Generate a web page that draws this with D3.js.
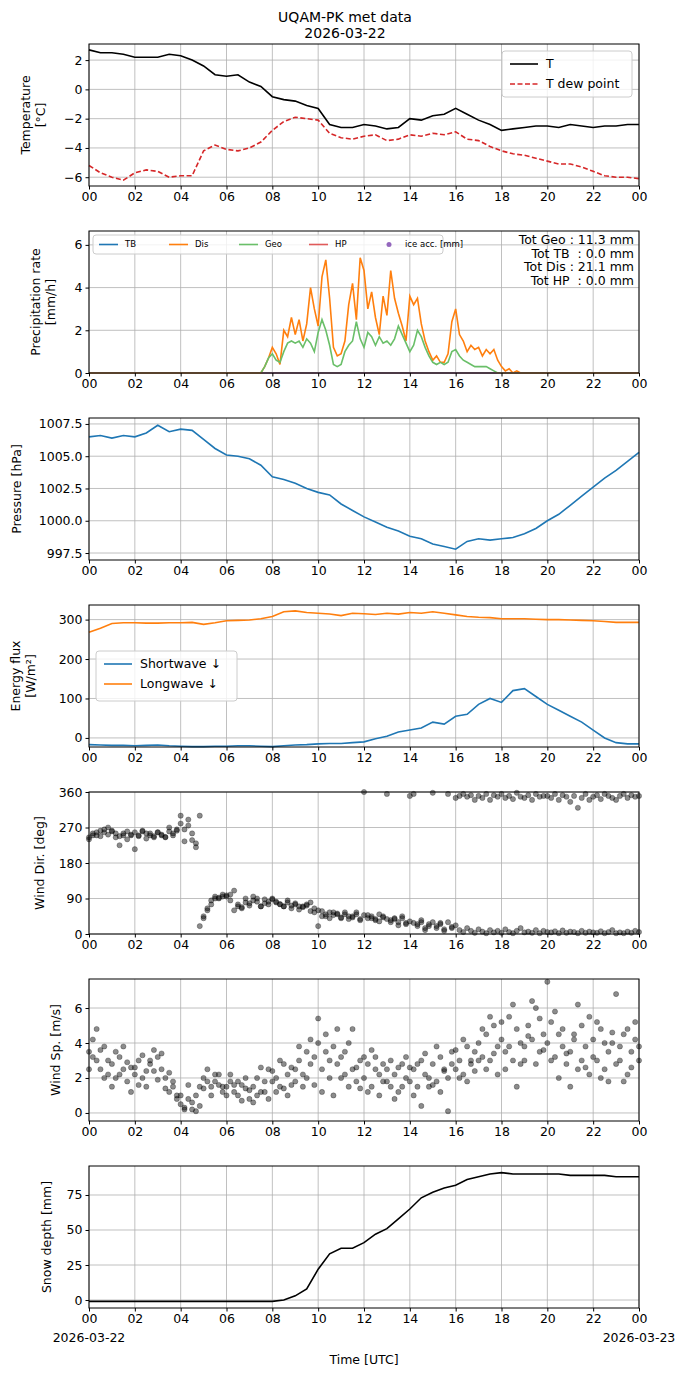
<!doctype html>
<html>
<head>
<script src="https://d3js.org/d3.v7.min.js"></script>
<style>
body{margin:0;background:#fff;font-family:"DejaVu Sans",sans-serif;}
text{font-family:"DejaVu Sans",sans-serif;}
</style>
</head>
<body>
<script>
// ---- data ----
var halfHours = d3.range(0, 24.01, 0.5);
var tempT = [2.7,2.5,2.5,2.4,2.2,2.2,2.2,2.4,2.3,2.0,1.6,1.0,0.9,1.0,0.5,0.2,-0.5,-0.7,-0.8,-1.1,-1.3,-2.4,-2.6,-2.6,-2.4,-2.5,-2.7,-2.6,-2.0,-2.1,-1.8,-1.7,-1.3,-1.7,-2.1,-2.4,-2.8,-2.7,-2.6,-2.5,-2.5,-2.6,-2.4,-2.5,-2.6,-2.5,-2.5,-2.4,-2.4];
var tempTd = [-5.2,-5.7,-6.0,-6.2,-5.7,-5.5,-5.6,-6.0,-5.9,-5.9,-4.2,-3.8,-4.1,-4.2,-4.0,-3.6,-2.8,-2.2,-1.9,-2.0,-2.1,-3.0,-3.3,-3.4,-3.2,-3.1,-3.5,-3.4,-3.1,-3.2,-3.0,-3.1,-2.9,-3.4,-3.5,-3.9,-4.2,-4.4,-4.5,-4.7,-4.9,-5.1,-5.1,-5.3,-5.6,-5.9,-6.0,-6.0,-6.1];
var pressure = [1006.5,1006.6,1006.4,1006.6,1006.5,1006.8,1007.4,1006.9,1007.1,1007.0,1006.3,1005.6,1005.1,1005.0,1004.8,1004.3,1003.4,1003.2,1002.9,1002.5,1002.2,1002.0,1001.3,1000.8,1000.3,999.9,999.5,999.2,998.8,998.6,998.2,998.0,997.8,998.4,998.6,998.5,998.6,998.7,999.0,999.4,1000.0,1000.5,1001.2,1001.9,1002.6,1003.3,1003.9,1004.6,1005.3];
var shortwave = [-17,-18,-19,-19,-20,-19,-18,-20,-21,-22,-22,-21,-21,-20,-20,-21,-22,-20,-18,-17,-15,-14,-14,-12,-10,-2,4,15,20,25,40,35,55,60,85,100,90,120,125,105,85,70,55,40,20,0,-12,-15,-15];
var longwave = [268,278,290,292,292,291,291,292,292,293,288,292,297,298,299,302,308,320,322,318,316,314,310,316,315,313,316,314,318,316,320,316,312,308,306,305,302,302,302,301,300,300,299,298,297,295,293,293,293];
var snowDepth = [-1,-1,-1,-1,-1,-1,-1,-1,-1,-1,-1,-1,-1,-1,-1,-1,-1,0,3,8,22,33,37,37,41,47,51,58,65,73,77,80,82,86,88,90,91,90,90,90,90,90,89,89,89,89,88,88,88];

var precipStart = 7.5; // 10-min steps
var precipDis = [0,0.3,0.7,1.2,0.9,0.4,2.0,1.7,2.6,1.8,2.5,1.5,2.3,4.0,3.0,2.2,4.5,5.3,3.5,1.2,0.8,0.9,1.5,3.2,4.2,2.5,5.4,4.8,3.0,3.8,2.6,1.8,3.6,2.7,4.8,3.5,2.8,2.2,1.5,3.6,3.2,3.5,2.3,1.5,1.0,0.6,0.8,0.5,0.5,0.9,2.4,3.0,1.8,1.5,1.0,1.3,1.1,1.2,0.8,1.1,0.9,1.1,0.6,0.3,0.1,0.2,0.0,0.1,0,0];
var precipGeo = [0,0.3,0.7,0.9,0.6,0.5,1.0,1.4,1.5,1.4,1.5,1.2,1.6,1.4,1.0,1.9,2.5,2.0,1.3,0.4,0.3,0.4,1.0,1.3,1.5,2.4,1.6,1.2,1.9,1.7,1.3,1.7,1.4,1.5,1.3,1.6,2.2,1.8,1.4,1.0,1.3,2.0,1.7,1.2,0.8,0.5,0.4,0.5,0.4,0.5,1.0,1.1,0.8,0.6,0.5,0.4,0.3,0.3,0.3,0.3,0.2,0.1,0,0,0,0,0,0,0,0];
var precipTotals = ["Tot Geo : 11.3 mm","Tot TB  : 0.0 mm","Tot Dis : 21.1 mm","Tot HP  : 0.0 mm"];

var tenMin = d3.range(0, 145).map(function(i){ return i / 6; });
var windDirA = [245,255,250,262,258,270,260,255,248,250,240,252,258,248,262,255,250,245,258,252,246,260,250,265,280,235,290,255,220,300,40,60,75,90,92,95,98,100,110,70,65,80,72,85,90,70,78,82,88,80,75,70,85,72,78,70,68,75,80,65,60,45,50,55,48,52,40,50,45,42,55,38,48,40,45,35,50,42,38,35,40,30,45,25,32,28,20,35,15,25,30,20,25,12,30,18,22,10,5,15,8,3,12,6,2,10,4,8,3,12,5,2,8,15,4,6,3,10,2,8,5,4,7,2,9,3,6,5,2,8,3,6,4,3,7,2,5,10,2,4,2,6,3,8,5,10];
var windDirB = [240,250,258,248,265,252,262,245,225,255,260,250,215,250,260,242,255,248,258,250,245,270,255,262,300,265,275,238,230,20,45,65,85,95,90,100,95,85,60,75,68,90,78,95,82,70,88,75,90,82,76,70,80,65,75,62,70,72,58,55,20,58,45,40,55,50,42,55,38,45,50,35,360,48,40,38,32,45,355,30,38,22,40,28,350,355,25,30,10,20,358,15,28,8,355,15,345,350,355,348,352,340,350,345,355,340,352,348,355,345,350,342,358,348,345,352,340,355,348,350,350,345,355,340,352,348,335,350,320,345,355,340,348,352,342,355,350,345,340,350,355,345,352,348,350];
var windSpA = [3.5,4.2,3.0,2.5,3.8,2.2,2.8,2.0,3.2,2.5,1.8,2.6,2.2,3.0,2.0,1.5,2.8,3.6,3.2,2.5,2.0,1.2,1.5,1.0,0.5,0.3,0.8,0.2,1.0,0.4,2.0,1.8,1.5,2.2,1.6,1.2,1.5,1.8,1.2,1.0,1.6,1.4,0.8,1.5,2.0,1.2,1.8,2.5,1.8,2.0,1.5,2.8,2.2,1.6,2.5,3.0,2.2,3.5,2.8,3.2,4.0,2.5,3.5,2.0,3.8,2.8,3.2,2.2,4.0,2.5,1.8,3.0,2.0,2.8,1.5,3.2,2.2,1.8,2.5,1.5,2.2,1.2,2.8,2.0,1.8,2.5,1.5,3.0,2.2,2.0,2.8,1.8,3.2,2.5,2.0,3.5,2.5,3.0,2.2,3.8,2.8,3.5,4.0,3.2,4.5,3.0,5.0,3.8,4.2,3.5,5.5,3.0,4.8,2.8,3.8,5.0,4.2,6.0,3.5,4.5,4.0,5.2,3.2,4.5,3.8,2.8,3.5,4.5,2.5,5.0,3.8,2.2,4.2,3.0,4.8,2.5,3.5,4.0,2.8,3.8,4.5,2.2,3.5,4.2,3.8];
var windSpB = [2.5,3.2,4.8,3.6,2.0,3.0,1.5,3.5,2.2,3.8,2.9,1.2,2.6,1.6,3.3,2.4,3.0,2.4,1.9,3.4,1.4,2.3,1.8,0.8,1.0,0.2,1.6,0.6,0.1,1.5,1.4,2.5,1.0,1.8,2.2,1.5,1.0,2.2,1.6,1.8,0.7,2.0,1.3,0.6,1.0,2.6,1.2,0.8,2.4,1.2,3.0,1.4,1.0,2.6,1.8,3.8,1.5,2.0,4.2,1.6,5.4,1.2,4.5,3.0,1.0,4.8,2.0,3.5,1.5,4.8,2.6,1.4,3.2,1.2,3.6,2.5,1.0,2.8,1.8,3.0,0.8,2.6,1.5,3.2,2.6,1.0,2.8,0.4,3.4,1.5,1.6,3.8,1.2,2.4,0.1,2.8,3.6,2.0,4.2,1.8,3.0,2.4,3.0,4.8,2.5,5.5,3.4,2.2,5.2,2.5,3.8,6.2,1.5,4.0,3.0,4.4,6.4,2.8,5.4,3.6,7.5,3.0,5.8,2.0,4.8,3.4,1.5,4.2,6.2,3.0,2.6,5.5,3.2,5.2,2.0,4.0,1.8,4.6,6.8,3.0,1.8,4.8,2.6,5.2,3.0];

var hourTicks = d3.range(0, 25, 2);
var hourLabels = hourTicks.map(function(h){ return h === 24 ? "00" : d3.format("02d")(h); });

// ---- layout ----
var W = 689, H = 1377, left = 89, right = 639, ph = 142;
var svg = d3.select("body").append("svg").attr("width", W).attr("height", H);
var x = d3.scaleLinear().domain([0, 24]).range([left, right]);

svg.append("text").attr("x", 345).attr("y", 22).attr("text-anchor", "middle").attr("font-size", "14px").text("UQAM-PK met data");
svg.append("text").attr("x", 345).attr("y", 38).attr("text-anchor", "middle").attr("font-size", "14px").text("2026-03-22");

function panel(top, domain, ticks, fmt, labels, labelX) {
    var g = svg.append("g");
    var y = d3.scaleLinear().domain(domain).range([top + ph, top]);
    // grid
    g.selectAll(".vg").data(hourTicks).enter().append("line")
        .attr("x1", function(d){ return x(d); }).attr("x2", function(d){ return x(d); })
        .attr("y1", top).attr("y2", top + ph).attr("stroke", "#b0b0b0").attr("stroke-width", 0.8);
    g.selectAll(".hg").data(ticks).enter().append("line")
        .attr("x1", left).attr("x2", right)
        .attr("y1", function(d){ return y(d); }).attr("y2", function(d){ return y(d); })
        .attr("stroke", "#b0b0b0").attr("stroke-width", 0.8);
    var xa = svg.append("g").attr("transform", "translate(0," + (top + ph) + ")")
        .call(d3.axisBottom(x).tickValues(hourTicks).tickFormat(function(d, i){ return hourLabels[i]; }).tickSize(3.5).tickPadding(3));
    var ya = svg.append("g").attr("transform", "translate(" + left + ",0)")
        .call(d3.axisLeft(y).tickValues(ticks).tickFormat(fmt).tickSize(3.5).tickPadding(3));
    [xa, ya].forEach(function(a){
        a.select(".domain").remove();
        a.selectAll("text").attr("font-size", "12.5px").attr("fill", "#000").attr("font-family", "DejaVu Sans");
    });
    labels.forEach(function(t, i){
        svg.append("text").attr("transform", "translate(" + (labelX + i * 15) + "," + (top + ph / 2) + ") rotate(-90)")
            .attr("text-anchor", "middle").attr("font-size", "12.5px").text(t);
    });
    return {y: y, top: top, g: g, frame: function(){
        svg.append("rect").attr("x", left).attr("y", top).attr("width", right - left).attr("height", ph)
            .attr("fill", "none").attr("stroke", "#000").attr("stroke-width", 1);
    }};
}

function drawLine(p, xs, ys, color, dash, width) {
    p.g.append("path").datum(d3.zip(xs, ys))
        .attr("fill", "none").attr("stroke", color).attr("stroke-width", width || 1.6)
        .attr("stroke-dasharray", dash || null)
        .attr("d", d3.line().x(function(d){ return x(d[0]); }).y(function(d){ return p.y(d[1]); }));
}

function legend(x0, y0, w, h, items, fs, horizontal) {
    var g = svg.append("g");
    g.append("rect").attr("x", x0).attr("y", y0).attr("width", w).attr("height", h).attr("rx", 3)
        .attr("fill", "#fff").attr("fill-opacity", 0.8).attr("stroke", "#ccc");
    items.forEach(function(it, i){
        var lx = horizontal ? x0 + 6 + i * 70 : x0 + 8;
        var ly = horizontal ? y0 + h / 2 : y0 + 13 + i * 20;
        if (it.dot) {
            g.append("circle").attr("cx", lx + 10).attr("cy", ly).attr("r", 2.5).attr("fill", it.color);
        } else {
            g.append("line").attr("x1", lx).attr("x2", lx + (horizontal ? 19 : 28)).attr("y1", ly).attr("y2", ly)
                .attr("stroke", it.color).attr("stroke-width", 1.6).attr("stroke-dasharray", it.dash || null);
        }
        g.append("text").attr("x", lx + (horizontal ? 26 : 36)).attr("y", ly).attr("dy", "0.35em")
            .attr("font-size", fs).text(it.name);
    });
}

// 1 temperature
var p1 = panel(44, [-6.6, 3.1], [-6, -4, -2, 0, 2], d3.format("d"), ["Temperature", "[°C]"], 30);
drawLine(p1, halfHours, tempT, "#000");
drawLine(p1, halfHours, tempTd, "#d62728", "5,2.5");
p1.frame();
legend(502, 51, 130, 46, [{name: "T", color: "#000"}, {name: "T dew point", color: "#d62728", dash: "5,2.5"}], "12.5px");

// 2 precipitation
var p2 = panel(231, [0, 6.65], [0, 2, 4, 6], d3.format("d"), ["Precipitation rate", "[mm/h]"], 40);
var pHours = [0].concat(precipDis.map(function(d, i){ return precipStart + i / 6; })).concat([24]);
drawLine(p2, [0, 24], [0, 0], "#1f77b4");
drawLine(p2, pHours, [0].concat(precipDis).concat([0]), "#ff7f0e");
drawLine(p2, pHours, [0].concat(precipGeo).concat([0]), "#6abf69");
drawLine(p2, [0, 24], [0, 0], "#e05a5a", null, 1.2);
p2.frame();
precipTotals.forEach(function(t, i){
    svg.append("text").attr("x", 634).attr("y", 244 + i * 13.5).attr("text-anchor", "end")
        .attr("font-size", "12.5px").attr("xml:space", "preserve").style("white-space", "pre").text(t);
});
legend(93, 235, 350, 19, [{name: "TB", color: "#1f77b4"}, {name: "Dis", color: "#ff7f0e"}, {name: "Geo", color: "#6abf69"}, {name: "HP", color: "#e05a5a"}, {name: "ice acc. [mm]", color: "#9467bd", dot: true}], "8.5px", true);

// 3 pressure
var p3 = panel(418, [996.96, 1007.96], [997.5, 1000, 1002.5, 1005, 1007.5], d3.format(".1f"), ["Pressure [hPa]"], 21);
drawLine(p3, halfHours, pressure, "#1f77b4");
p3.frame();

// 4 energy
var p4 = panel(605, [-23, 337], [0, 100, 200, 300], d3.format("d"), ["Energy flux", "[W/m²]"], 20);
drawLine(p4, halfHours, shortwave, "#1f77b4");
drawLine(p4, halfHours, longwave, "#ff7f0e");
p4.frame();
legend(96, 651, 141, 50, [{name: "Shortwave \u2193", color: "#1f77b4"}, {name: "Longwave \u2193", color: "#ff7f0e"}], "12.5px");

// 5 wind direction
var p5 = panel(792, [0, 360], [0, 90, 180, 270, 360], d3.format("d"), ["Wind Dir. [deg]"], 44);
[windDirA, windDirB].forEach(function(arr){
    p5.g.selectAll(null).data(d3.zip(tenMin, arr)).enter().append("circle")
        .attr("cx", function(d){ return x(d[0]); }).attr("cy", function(d){ return p5.y(d[1]); })
        .attr("r", 2.6).attr("fill", "#000").attr("fill-opacity", 0.45).attr("stroke", "#000").attr("stroke-opacity", 0.45).attr("stroke-width", 0.6);
});
p5.frame();

// 6 wind speed
var p6 = panel(979, [-0.46, 7.66], [0, 2, 4, 6], d3.format("d"), ["Wind Sp. [m/s]"], 60);
[windSpA, windSpB].forEach(function(arr){
    p6.g.selectAll(null).data(d3.zip(tenMin, arr)).enter().append("circle")
        .attr("cx", function(d){ return x(d[0]); }).attr("cy", function(d){ return p6.y(d[1]); })
        .attr("r", 2.6).attr("fill", "#000").attr("fill-opacity", 0.45).attr("stroke", "#000").attr("stroke-opacity", 0.45).attr("stroke-width", 0.6);
});
p6.frame();

// 7 snow depth
var p7 = panel(1166, [-5.7, 95.7], [0, 25, 50, 75], d3.format("d"), ["Snow depth [mm]"], 51);
drawLine(p7, halfHours, snowDepth, "#000");
p7.frame();

svg.append("text").attr("x", 89).attr("y", 1342).attr("text-anchor", "middle").attr("font-size", "12.5px").text("2026-03-22");
svg.append("text").attr("x", 639).attr("y", 1342).attr("text-anchor", "middle").attr("font-size", "12.5px").text("2026-03-23");
svg.append("text").attr("x", 364).attr("y", 1364).attr("text-anchor", "middle").attr("font-size", "12.5px").text("Time [UTC]");
</script>
</body>
</html>
